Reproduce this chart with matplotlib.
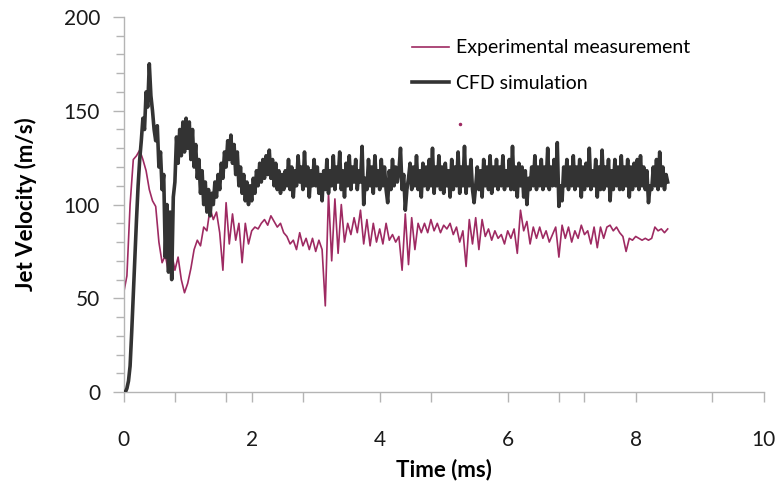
import numpy as np
import matplotlib
matplotlib.use('Agg')
import matplotlib.pyplot as plt

plt.rcParams['font.family'] = ['Lato', 'DejaVu Sans']

# experimental measurement (m/s), sampled every 0.05 ms, one row = 0.5 ms
exp_dt = 0.05
exp_v = [53, 62, 100, 124, 126, 129, 124, 118, 108, 102,
         99, 80, 69, 73, 64, 74, 65, 72, 60, 53,
         58, 66, 76, 81, 78, 88, 86, 98, 92, 96,
         85, 65, 101, 79, 95, 81, 90, 69, 90, 79,
         86, 88, 87, 90, 92, 89, 94, 91, 88, 90,
         85, 83, 79, 81, 76, 85, 78, 82, 76, 82,
         75, 81, 76, 46, 106, 70, 103, 74, 100, 80,
         90, 84, 93, 85, 97, 79, 92, 78, 90, 80,
         87, 79, 90, 81, 84, 80, 83, 65, 95, 68,
         93, 76, 90, 85, 90, 85, 92, 86, 90, 85,
         89, 87, 90, 84, 88, 80, 86, 67, 92, 79,
         93, 76, 92, 83, 87, 81, 86, 82, 84, 79,
         86, 82, 87, 74, 97, 86, 91, 79, 88, 82,
         88, 82, 86, 80, 84, 88, 72, 89, 82, 88,
         80, 86, 82, 89, 84, 86, 79, 88, 77, 88,
         82, 88, 89, 86, 88, 85, 83, 75, 82, 81,
         83, 82, 81, 82, 81, 82, 88, 86, 87, 85,
         87]

# CFD simulation (m/s), sampled every 0.025 ms, one row = 0.5 ms
cfd_dt = 0.025
cfd_v = [0, 0, 2, 6, 14, 32, 52, 72, 92, 110, 124, 134, 146, 140, 160, 152, 175, 158, 150, 140,
         134, 142, 120, 128, 108, 116, 72, 100, 64, 96, 60, 104, 112, 136, 122, 140, 126, 144, 128, 146,
         130, 144, 124, 140, 120, 132, 114, 124, 106, 118, 100, 112, 96, 108, 94, 106, 100, 112, 104, 116,
         108, 122, 114, 128, 120, 134, 124, 137, 122, 132, 116, 128, 110, 120, 106, 116, 102, 112, 100, 110,
         102, 114, 106, 118, 110, 122, 112, 124, 114, 126, 116, 129, 114, 124, 110, 122, 108, 118, 106, 116,
         108, 118, 110, 124, 108, 120, 104, 118, 110, 126, 112, 120, 108, 128, 110, 120, 104, 118, 110, 124,
         110, 120, 106, 116, 102, 118, 108, 124, 106, 118, 110, 126, 108, 120, 112, 128, 108, 118, 104, 122,
         110, 126, 108, 120, 112, 124, 108, 118, 112, 131, 100, 114, 108, 124, 110, 120, 106, 126, 110, 118,
         108, 124, 110, 120, 108, 101, 118, 108, 124, 110, 120, 112, 118, 130, 108, 116, 97, 108, 114, 122,
         108, 120, 110, 126, 108, 118, 104, 122, 110, 120, 108, 124, 110, 130, 106, 120, 110, 126, 108, 120,
         106, 122, 110, 118, 104, 124, 108, 120, 110, 128, 106, 120, 110, 131, 106, 120, 110, 124, 108, 101,
         110, 120, 108, 118, 104, 124, 110, 120, 108, 126, 106, 120, 110, 124, 108, 120, 110, 126, 108, 118,
         110, 124, 108, 131, 108, 120, 104, 122, 110, 120, 104, 118, 100, 114, 108, 120, 110, 126, 108, 120,
         110, 124, 108, 120, 110, 130, 108, 120, 110, 124, 110, 133, 99, 110, 102, 120, 110, 124, 108, 120,
         110, 126, 108, 120, 110, 124, 104, 120, 108, 122, 110, 130, 108, 118, 110, 124, 104, 120, 108, 129,
         108, 120, 110, 124, 102, 118, 108, 124, 110, 120, 108, 126, 108, 120, 110, 124, 104, 120, 108, 122,
         110, 124, 108, 126, 110, 120, 108, 118, 101, 110, 108, 120, 110, 124, 108, 128, 110, 120, 108, 116,
         112]

# lone stray sample of the measurement
stray_t = [5.26]
stray_v = [143]

x_minor = [0.8, 1.6, 2.8, 4.8, 6.8, 7.2, 9.2]

exp_t = np.arange(len(exp_v)) * exp_dt
cfd_t = np.arange(len(cfd_v)) * cfd_dt

fig = plt.figure(figsize=(7.78, 4.83), dpi=100)
ax = fig.add_axes([0.159, 0.188, 0.8226, 0.777])

red = '#9e2a62'
dark = '#333333'
ax.plot(exp_t, exp_v, color=red, lw=1.2, label='Experimental measurement', zorder=2)
ax.plot(cfd_t, cfd_v, color=dark, lw=2.6, label='CFD simulation', zorder=3)
ax.plot(stray_t, stray_v, 'o', color=red, ms=1.5, zorder=2)

ax.set_xlim(0, 10)
ax.set_ylim(0, 200)
ax.set_xticks([0, 2, 4, 6, 8, 10])
ax.set_xticks(x_minor, minor=True)
ax.set_yticks([0, 50, 100, 150, 200])
ax.set_yticks(np.arange(0, 201, 10), minor=True)

for s in ['top', 'right']:
    ax.spines[s].set_visible(False)
for s in ['left', 'bottom']:
    ax.spines[s].set_color('#b4b4b4')
    ax.spines[s].set_linewidth(1.0)

ax.tick_params(axis='both', which='both', colors='#b4b4b4', labelcolor='#1a1a1a',
               direction='out', width=1.0, labelsize=15)
ax.tick_params(axis='y', which='major', length=8, pad=9)
ax.tick_params(axis='y', which='minor', length=6)
ax.tick_params(axis='x', which='both', length=7, pad=20)

ax.set_xlabel('Time (ms)', fontsize=16, fontweight='bold', va='top')
ax.set_ylabel('Jet Velocity (m/s)', fontsize=16, fontweight='bold')
ax.xaxis.set_label_coords(0.5, -0.176)
ax.yaxis.set_label_coords(-0.136, 0.5)

ax.legend(loc='upper left', bbox_to_anchor=(0.45, 0.94), frameon=False,
          fontsize=14, handlelength=1.9, handletextpad=0.4, labelspacing=0.96,
          borderpad=0, borderaxespad=0)

fig.savefig('out.png', dpi=100)
